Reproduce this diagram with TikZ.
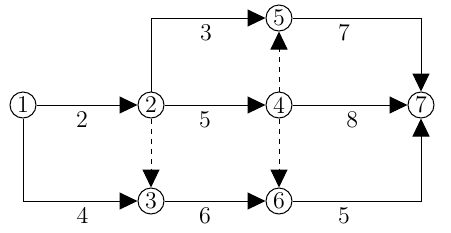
\documentclass[tikz,border=0pt]{standalone}
\usetikzlibrary{arrows.meta}

\begin{document}
\begin{tikzpicture}[x=0.5pt,y=-0.5pt,>={Triangle[length=9pt,width=8.5pt]},
  event/.style={circle,draw,line width=0.5pt,minimum size=13pt,inner sep=0pt,font=\large},
  job/.style={->,line width=0.5pt},
  dummy/.style={->,line width=0.5pt,dash pattern=on 2.5pt off 2.5pt},
  lbl/.style={below,inner sep=1pt,yshift=-2pt,font=\large}]

  \useasboundingbox (0,0) rectangle (451,232);

  % events
  \node[event] (n1) at (23,105) {1};
  \node[event] (n2) at (151,105) {2};
  \node[event] (n3) at (151,201) {3};
  \node[event] (n4) at (279,105) {4};
  \node[event] (n5) at (279,18) {5};
  \node[event] (n6) at (279,201) {6};
  \node[event] (n7) at (421,105) {7};

  % activities
  \draw[job] (n1) -- (n2) node[lbl,pos=0.45]{2};
  \draw[job] (n2) |- (n5) node[lbl,pos=0.74]{3};
  \draw[job] (n5) -| (n7) node[lbl,pos=0.2]{7};
  \draw[job] (n2) -- (n4) node[lbl,pos=0.4]{5};
  \draw[job] (n4) -- (n7) node[lbl,pos=0.52]{8};
  \draw[job] (n1) |- (n3) node[lbl,pos=0.76]{4};
  \draw[job] (n3) -- (n6) node[lbl,pos=0.4]{6};
  \draw[job] (n6) -| (n7) node[lbl,pos=0.2]{5};

  % dummy activities
  \draw[dummy] (n2) -- (n3);
  \draw[dummy] (n4) -- (n5);
  \draw[dummy] (n4) -- (n6);
\end{tikzpicture}
\end{document}
